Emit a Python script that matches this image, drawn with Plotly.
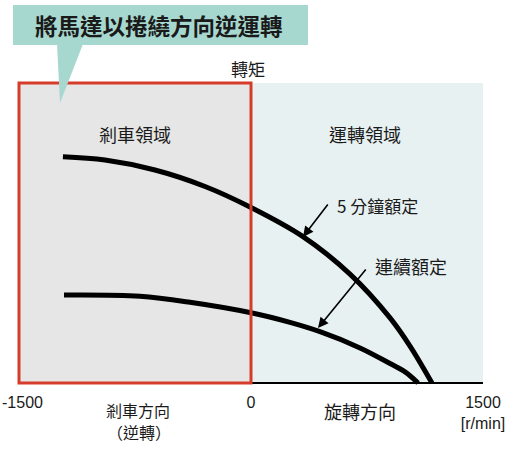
import plotly.graph_objects as go

# ---- data ----
speed_5min = [-1216, -944, -621, -297, 0, 336, 640, 899, 1028, 1170]
torque_5min = [75.4, 74.3, 71.0, 65.5, 58.5, 48.8, 36.3, 21.7, 12.3, 0]
speed_cont = [-1209, -718, -394, 0, 252, 446, 705, 899, 996, 1080]
torque_cont = [29.3, 28.9, 26.9, 23.4, 20.2, 17.1, 11.7, 6.5, 3.7, 0]
tick_vals = [0, 1500]
tick_text = ["0", "1500<br>[r/min]"]
x_min, x_max = -1500, 1500
t_max = 100

W, H = 510, 452
ML, MR, MT, MB = 16, 24, 80, 66
PW, PH = W - ML - MR, H - MT - MB
UPX = 1500 / 232.0  # data units per pixel (x)
x_range = [-(251 - ML) * UPX, (W - MR - 251) * UPX]
y_range = [(383 - (H - MB)) / 3.0, (383 - MT) / 3.0]


def px(x):
    return (x - ML) / PW


def py(y):
    return (H - MB - y) / PH


CJK = "Noto Sans CJK TC"
TXT = "#1a1a1a"

fig = go.Figure()
fig.add_trace(go.Scatter(x=speed_5min, y=torque_5min, mode="lines",
                         line=dict(color="black", width=5, shape="spline", smoothing=1),
                         hoverinfo="skip", showlegend=False))
fig.add_trace(go.Scatter(x=speed_cont, y=torque_cont, mode="lines",
                         line=dict(color="black", width=5, shape="spline", smoothing=1),
                         hoverinfo="skip", showlegend=False))

shapes = [
    dict(type="rect", xref="x", yref="y", x0=x_min, x1=0, y0=0, y1=t_max,
         fillcolor="#e6e6e6", line=dict(width=0), layer="below"),
    dict(type="rect", xref="x", yref="y", x0=0, x1=x_max, y0=0, y1=t_max,
         fillcolor="#e7f1f2", line=dict(width=0), layer="below"),
    dict(type="line", xref="x", yref="y", x0=0, x1=x_max, y0=0, y1=0,
         line=dict(color="black", width=2), layer="above"),
    dict(type="rect", xref="x", yref="y", x0=x_min, x1=0, y0=0, y1=t_max,
         fillcolor="rgba(0,0,0,0)", line=dict(color="#d63c2a", width=3), layer="above"),
    dict(type="rect", xref="paper", yref="paper", x0=px(13), x1=px(308), y0=py(45), y1=py(5),
         fillcolor="#a7d8d0", line=dict(width=0), layer="above"),
    dict(type="path", xref="paper", yref="paper",
         path=f"M {px(57)},{py(44)} L {px(83)},{py(44)} L {px(60)},{py(103)} Z",
         fillcolor="#a7d8d0", line=dict(width=0), layer="above"),
]

annotations = []


def label(text, x, y, size, bold=False, xanchor="center"):
    annotations.append(dict(text=f"<b>{text}</b>" if bold else text, xref="paper", yref="paper",
                            x=px(x), y=py(y), xanchor=xanchor, yanchor="middle",
                            showarrow=False, borderpad=0,
                            font=dict(family=CJK, size=size, color=TXT)))


label("將馬達以捲繞方向逆運轉", 159, 25, 22.5, bold=True)
label("轉矩", 248, 69, 17)
label("剎車領域", 135, 134, 18)
label("運轉領域", 365, 134, 18)
label("5 分鐘額定", 336, 205, 17, xanchor="left")
label("連續額定", 374, 266, 18, xanchor="left")
label("剎車方向", 138, 410, 16)
label("（逆轉）", 139, 432, 16)
label("旋轉方向", 360, 411, 18)

# left end speed label (kept clear of the page edge)
annotations.append(dict(text=f"{x_min}", xref="x", yref="paper", x=x_min, y=py(402),
                        xanchor="center", yanchor="middle", xshift=3, showarrow=False,
                        borderpad=0, font=dict(family="Liberation Sans", size=16, color=TXT)))

# arrows (tip, tail) in data coordinates
for tip, tail in [((336, 48.7), (504, 60.0)), ((433, 18.3), (750, 38.3))]:
    annotations.append(dict(text="", x=tip[0], y=tip[1], xref="x", yref="y",
                            ax=tail[0], ay=tail[1], axref="x", ayref="y",
                            showarrow=True, arrowhead=2, arrowsize=1.3, arrowwidth=1.6,
                            arrowcolor="black"))

fig.update_layout(
    width=W, height=H, margin=dict(l=ML, r=MR, t=MT, b=MB, autoexpand=False),
    paper_bgcolor="white", plot_bgcolor="white",
    shapes=shapes, annotations=annotations, showlegend=False,
    xaxis=dict(range=x_range, tickvals=tick_vals, ticktext=tick_text, ticks="",
               showline=False, zeroline=False, showgrid=False, fixedrange=True,
               automargin=False,
               tickfont=dict(family="Liberation Sans", size=16, color=TXT),
               ticklabelstandoff=5, ticklabeloverflow="allow"),
    yaxis=dict(range=y_range, visible=False, fixedrange=True, automargin=False),
)

fig.write_html("out.html")
